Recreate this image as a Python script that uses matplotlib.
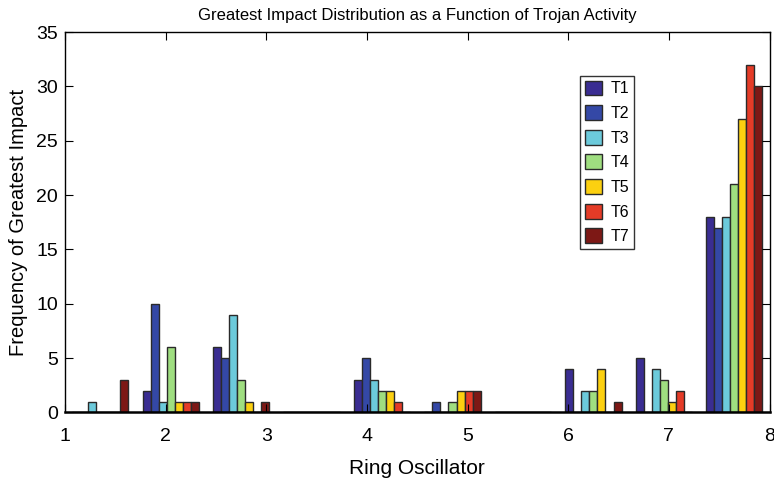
import numpy as np
import matplotlib
matplotlib.use("Agg")
import matplotlib.pyplot as plt

plt.rcParams['font.family'] = ['Liberation Sans', 'DejaVu Sans']

# Histogram bin centres (10 bins over [1, 8])
bin_centers = [1.35, 2.05, 2.75, 3.45, 4.15, 4.85, 5.55, 6.25, 6.95, 7.65]
series_names = ['T1', 'T2', 'T3', 'T4', 'T5', 'T6', 'T7']

t1 = [0, 2, 6, 0, 3, 0, 0, 4, 5, 18]
t2 = [0, 10, 5, 0, 5, 1, 0, 0, 0, 17]
t3 = [1, 1, 9, 0, 3, 0, 0, 2, 4, 18]
t4 = [0, 6, 3, 0, 2, 1, 0, 2, 3, 21]
t5 = [0, 1, 1, 0, 2, 2, 0, 4, 1, 27]
t6 = [0, 1, 0, 0, 1, 2, 0, 0, 2, 32]
t7 = [3, 1, 1, 0, 0, 2, 0, 1, 0, 30]
series = [t1, t2, t3, t4, t5, t6, t7]

colors = ['#3a2d92', '#3448a6', '#6ccadb', '#9fde80', '#fcd010', '#e43b27', '#7d1815']

x_ticks = [1, 2, 3, 4, 5, 6, 7, 8]
y_ticks = [0, 5, 10, 15, 20, 25, 30, 35]

fig = plt.figure(figsize=(7.74, 4.82), dpi=100)
ax = fig.add_axes([0.0840, 0.1442, 0.9102, 0.7894])

spacing = 0.7
n = len(series)
bar_w = 0.8 * spacing / n
centers = np.array(bin_centers)
for i, (vals, name, c) in enumerate(zip(series, series_names, colors)):
    offs = (i - (n - 1) / 2) * bar_w
    ax.bar(centers + offs, vals, width=bar_w, color=c, edgecolor='#2a2a2a',
           linewidth=1.0, label=name)

ax.set_xlim(1, 8)
ax.set_ylim(0, 35)
ax.set_xticks(x_ticks)
ax.set_yticks(y_ticks)
ax.tick_params(direction='in', length=6, width=0.8, top=True, right=True,
               labelsize=14)
ax.tick_params(axis='x', pad=11)
ax.tick_params(axis='y', pad=5)
for s in ax.spines.values():
    s.set_linewidth(1.0)
ax.spines['bottom'].set_linewidth(1.8)

ax.set_xlabel('Ring Oscillator', fontsize=15, labelpad=10)
ax.set_ylabel('Frequency of Greatest Impact', fontsize=14.5, labelpad=6)
ax.set_title('Greatest Impact Distribution as a Function of Trojan Activity',
             fontsize=12, pad=9)

leg = ax.legend(loc='upper left', bbox_to_anchor=(0.731, 0.885), fontsize=11.5,
                frameon=True, fancybox=False, edgecolor='black',
                handlelength=1.1, handleheight=1.05, handletextpad=0.5,
                labelspacing=0.55, borderpad=0.3, borderaxespad=0)
leg.get_frame().set_linewidth(1.0)

fig.savefig('out.png', dpi=100)
